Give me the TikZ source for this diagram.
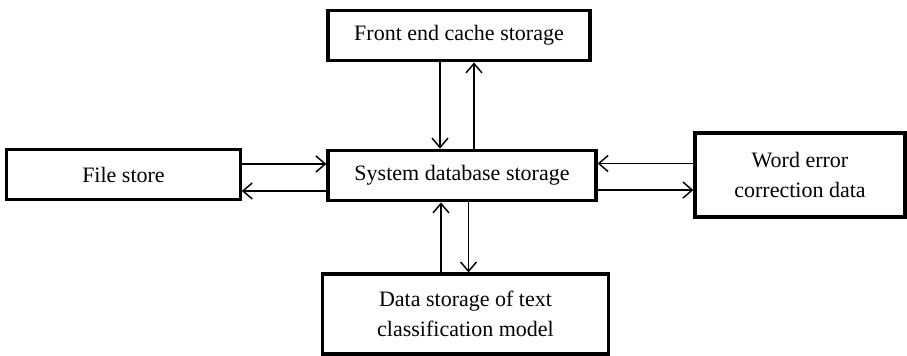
\documentclass[tikz,border=0pt]{standalone}
\usepackage{fontspec}
\setmainfont{Liberation Serif}
\usetikzlibrary{arrows.meta}

\begin{document}
\begin{tikzpicture}[x=0.75pt,y=0.75pt,yscale=-1,xscale=1,
  storebox/.style={draw, line width=2.4pt, align=center, inner sep=0pt,
    font=\fontsize{16.5}{22}\selectfont},
  flow/.style={line width=1.1pt, -{Straight Barb[length=7pt,width=12pt,line width=1.1pt]}}]
\useasboundingbox (0,0) rectangle (907,356);

% Boxes
\node [storebox, minimum width=196.5pt, minimum height=38pt] (front) at (459,35.5) {Front end cache storage};
\node [storebox, minimum width=175pt, minimum height=38pt] (file) at (123.5,174.5) {File store};
\node [storebox, minimum width=201pt, minimum height=38pt] (sys) at (462,175.5) {System database storage};
\node [storebox, minimum width=157.5pt, minimum height=63pt] (word) at (800,175) {Word error\\correction data};
\node [storebox, minimum width=214pt, minimum height=60pt] (model) at (465.5,314) {Data storage of text\\classification model};

% Front end <-> system
\draw [flow] ([xshift=-14.25pt]front.south) -- ([xshift=-14.25pt]front.south |- sys.north);
\draw [flow] ([xshift=9pt]sys.north) -- ([xshift=9pt]sys.north |- front.south);
% File store <-> system
\draw [flow] ([yshift=-7.9pt]file.east) -- ([yshift=-7.9pt]file.east -| sys.west);
\draw [flow] ([yshift=11.6pt]sys.west) -- ([yshift=11.6pt]sys.west -| file.east);
% Word error <-> system
\draw [flow] ([yshift=-8.6pt]word.west) -- ([yshift=-8.6pt]word.west -| sys.east);
\draw [flow] ([yshift=10.9pt]sys.east) -- ([yshift=10.9pt]sys.east -| word.west);
% Model <-> system
\draw [flow] ([xshift=-18.4pt]model.north) -- ([xshift=-18.4pt]model.north |- sys.south);
\draw [flow] ([xshift=4.9pt]sys.south) -- ([xshift=4.9pt]sys.south |- model.north);

\end{tikzpicture}
\end{document}
